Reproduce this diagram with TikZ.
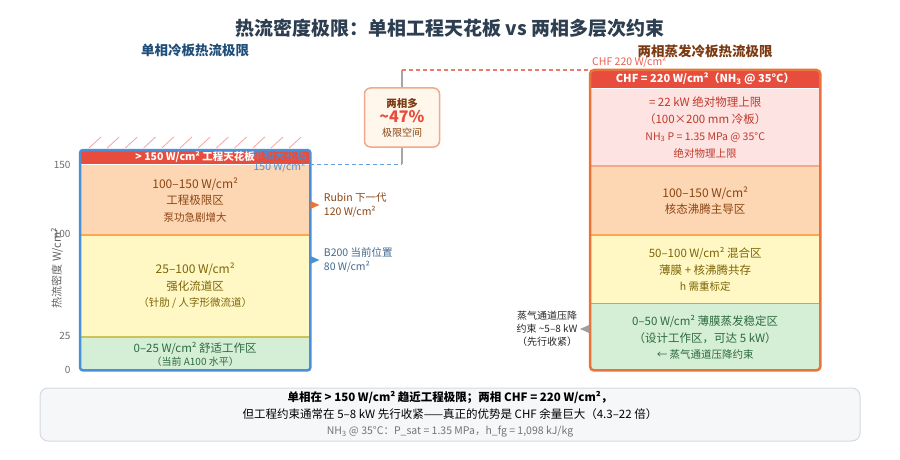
\documentclass[tikz,border=0pt]{standalone}
\usepackage{fontspec}
\setmainfont{Noto Sans CJK SC}
\usetikzlibrary{positioning,calc}
\newcommand{\fz}[2]{\fontsize{#1}{#2}\selectfont}
\definecolor{slate}{HTML}{2C3E50}
\definecolor{navyT}{HTML}{1F4E79}
\definecolor{rustT}{HTML}{7B3A12}
\definecolor{blueB}{HTML}{4A90D9}
\definecolor{orangeB}{HTML}{E8743B}
\definecolor{capred}{HTML}{E74C3C}
\definecolor{peach}{HTML}{FDD6B3}
\definecolor{lemon}{HTML}{FFF8C4}
\definecolor{mint}{HTML}{D5EED6}
\definecolor{blush}{HTML}{FDE3E1}
\definecolor{brownT}{HTML}{8B4513}
\definecolor{oliveT}{HTML}{7D6408}
\definecolor{greenT}{HTML}{2D6A3E}
\definecolor{redT}{HTML}{C0392B}
\definecolor{hatch}{HTML}{F4A3A3}
\definecolor{cream}{HTML}{FFF6EC}
\definecolor{salmon}{HTML}{F2A88A}
\definecolor{noteF}{HTML}{F6F7F9}
\definecolor{noteD}{HTML}{D5D9DF}
\tikzset{
  head/.style     = {font=\bfseries\fz{13.5}{15}},
  colbox/.style   = {rectangle, inner sep=0pt, minimum width=230, anchor=north west},
  zone/.style     = {rectangle, inner sep=0pt, minimum width=230, minimum height=#1,
                     align=center, font=\fz{11.5}{16.5}},
  capzone/.style  = {zone=#1, fill=capred, text=white},
  hatchline/.style= {hatch, line width=0.8},
  ticklbl/.style  = {anchor=east, text=gray!85!black, font=\fz{10}{11}},
  marklbl/.style  = {align=left, font=\fz{10.5}{13.5}},
  bluedash/.style = {blueB!85, line width=1.5, dash pattern=on 4pt off 3pt},
  reddash/.style  = {capred!75, line width=1.5, dash pattern=on 4pt off 3pt},
  graylink/.style = {gray!70, line width=1.5},
  gapbox/.style   = {draw=salmon, line width=1.5, fill=cream, rounded corners=6,
                     minimum width=75, minimum height=59, align=center, inner sep=0pt},
  notebox/.style  = {draw=noteD, line width=1, fill=noteF, rounded corners=8,
                     minimum width=820, minimum height=53, align=center, font=\fz{11.5}{16.5}},
}
\begin{document}
\begin{tikzpicture}[x=1pt, y=-1pt]
  \useasboundingbox (0,0) rectangle (900,460);
  % titles
  \node[font=\bfseries\fz{19}{21}, text=slate] (title) at (450,28)
        {热流密度极限：单相工程天花板 vs 两相多层次约束};
  \node[head, text=navyT] (lhead) at (195,50) {单相冷板热流极限};
  \node[head, text=rustT] (rhead) at (705,51) {两相蒸发冷板热流极限};

  % single phase column
  \node[colbox, minimum height=220] (lcol) at (80,150) {};
  \foreach \i in {0,...,11}
    \draw[hatchline] (89+18.2*\i,148) -- ++(12,-11);
  \begin{scope}
    \clip[rounded corners=3] (lcol.south west) rectangle (lcol.north east);
    \node[capzone=14, font=\bfseries\fz{10.5}{12}, anchor=north] (lcap) at (lcol.north)
          {> 150 W/cm² 工程天花板};
    \node[zone=70, fill=peach, text=brownT, below=0pt of lcap] (lhigh)
          {{\fz{12}{12}100–150 W/cm²}\\工程极限区\\{\fz{10.5}{12}泵功急剧增大}};
    \node[zone=102, fill=lemon, text=oliveT, below=0pt of lhigh] (lmid)
          {{\fz{12}{12}25–100 W/cm²}\\强化流道区\\{\fz{10.5}{12}（针肋 / 人字形微流道）}};
    \node[zone=34, fill=mint, text=greenT, font=\fz{11.5}{13.5}, below=0pt of lmid] (llow)
          {0–25 W/cm² 舒适工作区\\{\fz{10}{11}（当前 A100 水平）}};
    \draw[line width=2, draw=orange!55!peach] (lhigh.south west) -- (lhigh.south east);
    \draw[line width=1.5, draw=olive!45!lemon] (lmid.south west) -- (lmid.south east);
  \end{scope}
  \draw[blueB, line width=2.5, rounded corners=3] (lcol.south west) rectangle (lcol.north east);
  \node[anchor=east, text=blueB, font=\fz{11}{12}] (lceil) at (311,155) {单相天花板};
  \node[anchor=east, text=blueB, font=\fz{10.5}{12}] (lceilv) at (309,167) {150 W/cm²};

  % axis
  \foreach \v/\y in {150/165,100/234,25/336,0/370}
    \node[ticklbl] (tick\v) at (74,\y) {\v};
  \node[rotate=90, text=gray!75!black, font=\fz{11}{12}] (ylabel) at (57,268) {热流密度 W/cm²};

  % markers
  \coordinate (rubin) at (lcol.east |- 0,205);
  \coordinate (b200) at (lcol.east |- 0,260);
  \fill[orangeB] (rubin) ++(0,-4) -- ++(9,4) -- ++(-9,4) -- cycle;
  \fill[blueB] (b200) ++(0,-4) -- ++(9,4) -- ++(-9,4) -- cycle;
  \node[marklbl, text=brownT, right=10pt of rubin] (rubinlbl) {Rubin 下一代\\120 W/cm²};
  \node[marklbl, text=navyT!85, right=10pt of b200] (b200lbl) {B200 当前位置\\80 W/cm²};

  % two phase column
  \node[colbox, minimum height=300] (rcol) at (590,70) {};
  \begin{scope}
    \clip[rounded corners=4] (rcol.south west) rectangle (rcol.north east);
    \node[capzone=18, font=\bfseries\fz{11}{12}, anchor=north] (rcap) at (rcol.north)
          {CHF = 220 W/cm²（NH\textsubscript{3} @ 35°C）};
    \node[zone=77, fill=blush, text=redT, font=\fz{11.5}{17}, below=0pt of rcap] (rtop)
          {= 22 kW 绝对物理上限\\（100×200 mm 冷板）\\{\fz{10.5}{12}NH\textsubscript{3} P = 1.35 MPa @ 35°C}\\{\fz{10.5}{12}绝对物理上限}};
    \node[zone=69, fill=peach, text=brownT, below=0pt of rtop] (rhigh)
          {{\fz{12}{12}100–150 W/cm²}\\核态沸腾主导区};
    \node[zone=68, fill=lemon, text=oliveT, below=0pt of rhigh] (rmid)
          {50–100 W/cm² 混合区\\薄膜 + 核沸腾共存\\{\fz{10.5}{12}h 需重标定}};
    \node[zone=68, fill=mint, text=greenT, below=0pt of rmid] (rlow)
          {0–50 W/cm² 薄膜蒸发稳定区\\（设计工作区，可达 5 kW）\\{\fz{10.5}{12}← 蒸气通道压降约束}};
    \draw[line width=1.5, draw=salmon] (rtop.south west) -- (rtop.south east);
    \draw[line width=2, draw=orange!55!peach] (rhigh.south west) -- (rhigh.south east);
    \draw[line width=1.5, draw=green!25!mint!80!black] (rmid.south west) -- (rmid.south east);
  \end{scope}
  \draw[orangeB, line width=2.5, rounded corners=4] (rcol.south west) rectangle (rcol.north east);

  % vapour note
  \coordinate (vapor) at (rcol.west |- 0,329);
  \fill[gray!75] (vapor) ++(-1,-4) -- ++(-9,4) -- ++(9,4) -- cycle;
  \node[align=center, text=gray!30!black, font=\fz{10}{13}, left=9pt of vapor] (vaporlbl)
        {蒸气通道压降\\约束 \textasciitilde5–8 kW\\（先行收紧）};

  % gap box and links
  \node[gapbox] (gap) at (402,117.5)
        {{\bfseries\fz{10.5}{12}\color{rustT}两相多}\\[1pt]
         {\bfseries\fz{16}{17}\color{capred}\textasciitilde47\%}\\[2pt]
         {\fz{10}{12}\color{brownT}极限空间}};
  \draw[bluedash] (lcap.south east) -- (lcap.south east -| gap.south) coordinate (lknee);
  \draw[graylink] (lknee) -- (gap.south);
  \draw[graylink] (gap.north) -- (gap.north |- rcol.north) coordinate (rknee);
  \draw[reddash] (rknee) -- (rcol.north west);
  \node[anchor=south west, text=capred!90, font=\fz{10.5}{12}, inner sep=1pt] (chflbl) at (591,69)
        {CHF 220 W/cm²};

  % summary
  \node[notebox] (note) at (450,414.5)
        {{\bfseries 单相在 > 150 W/cm² 趋近工程极限；两相 CHF = 220 W/cm²，}\\
         但工程约束通常在 5–8 kW 先行收紧——真正的优势是 CHF 余量巨大（4.3–22 倍）\\
         {\fz{10.5}{12}\color{gray!90!black}NH\textsubscript{3} @ 35°C：P\_sat = 1.35 MPa，h\_fg = 1,098 kJ/kg}};
\end{tikzpicture}
\end{document}
